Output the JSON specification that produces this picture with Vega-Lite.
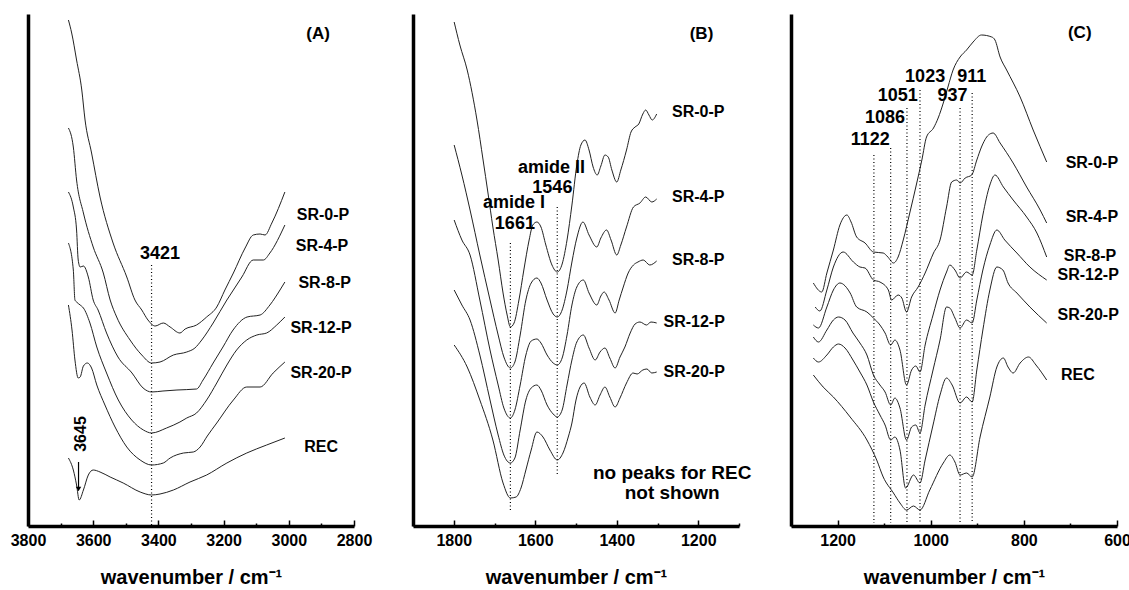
{
"$schema":"https://vega.github.io/schema/vega-lite/v6.json",
"padding":{"left":10,"top":14,"right":0,"bottom":5},
"bounds":"flush",
"spacing":59,
"config":{"view":{"stroke":null},
"axis":{"grid":false,"domainColor":"#000","domainWidth":3.5,"tickColor":"#000","tickWidth":1.5,"labelFont":"Liberation Sans","labelFontSize":16,"labelFontWeight":"bold","labelColor":"#000","titleFont":"Liberation Sans","titleFontSize":20,"titleFontWeight":"bold","titleColor":"#000","labelFlush":false,"labelOverlap":false},
"text":{"font":"Liberation Sans","fontWeight":"bold","color":"#000"},
"line":{"interpolate":"monotone"}},
"datasets":{
"A":[
{"s":"SR-0-P","x":3676,"y":506},{"s":"SR-0-P","x":3666,"y":493},{"s":"SR-0-P","x":3651,"y":466},{"s":"SR-0-P","x":3635,"y":436},{"s":"SR-0-P","x":3625,"y":406},{"s":"SR-0-P","x":3605,"y":373},{"s":"SR-0-P","x":3579,"y":329},{"s":"SR-0-P","x":3539,"y":283},{"s":"SR-0-P","x":3497,"y":249},{"s":"SR-0-P","x":3472,"y":226},{"s":"SR-0-P","x":3451,"y":216},{"s":"SR-0-P","x":3432,"y":206},{"s":"SR-0-P","x":3410,"y":200},{"s":"SR-0-P","x":3385,"y":203},{"s":"SR-0-P","x":3364,"y":199},{"s":"SR-0-P","x":3334,"y":193},{"s":"SR-0-P","x":3318,"y":197},{"s":"SR-0-P","x":3283,"y":201},{"s":"SR-0-P","x":3252,"y":209},{"s":"SR-0-P","x":3221,"y":219},{"s":"SR-0-P","x":3196,"y":236},{"s":"SR-0-P","x":3170,"y":253},{"s":"SR-0-P","x":3134,"y":278},{"s":"SR-0-P","x":3109,"y":291},{"s":"SR-0-P","x":3088,"y":292},{"s":"SR-0-P","x":3073,"y":291},{"s":"SR-0-P","x":3052,"y":303},{"s":"SR-0-P","x":3012,"y":334},
{"s":"SR-4-P","x":3676,"y":398},{"s":"SR-4-P","x":3661,"y":379},{"s":"SR-4-P","x":3651,"y":346},{"s":"SR-4-P","x":3630,"y":313},{"s":"SR-4-P","x":3600,"y":279},{"s":"SR-4-P","x":3569,"y":253},{"s":"SR-4-P","x":3548,"y":226},{"s":"SR-4-P","x":3528,"y":209},{"s":"SR-4-P","x":3487,"y":186},{"s":"SR-4-P","x":3451,"y":171},{"s":"SR-4-P","x":3421,"y":163},{"s":"SR-4-P","x":3395,"y":164},{"s":"SR-4-P","x":3354,"y":171},{"s":"SR-4-P","x":3313,"y":174},{"s":"SR-4-P","x":3288,"y":178},{"s":"SR-4-P","x":3267,"y":186},{"s":"SR-4-P","x":3232,"y":203},{"s":"SR-4-P","x":3190,"y":226},{"s":"SR-4-P","x":3170,"y":236},{"s":"SR-4-P","x":3144,"y":249},{"s":"SR-4-P","x":3109,"y":266},{"s":"SR-4-P","x":3078,"y":266},{"s":"SR-4-P","x":3058,"y":273},{"s":"SR-4-P","x":3012,"y":301},
{"s":"SR-8-P","x":3676,"y":334},{"s":"SR-8-P","x":3661,"y":319},{"s":"SR-8-P","x":3651,"y":296},{"s":"SR-8-P","x":3646,"y":266},{"s":"SR-8-P","x":3640,"y":259},{"s":"SR-8-P","x":3630,"y":260},{"s":"SR-8-P","x":3615,"y":249},{"s":"SR-8-P","x":3600,"y":226},{"s":"SR-8-P","x":3585,"y":216},{"s":"SR-8-P","x":3559,"y":193},{"s":"SR-8-P","x":3524,"y":169},{"s":"SR-8-P","x":3481,"y":153},{"s":"SR-8-P","x":3447,"y":138},{"s":"SR-8-P","x":3421,"y":134},{"s":"SR-8-P","x":3386,"y":135},{"s":"SR-8-P","x":3343,"y":136},{"s":"SR-8-P","x":3283,"y":137},{"s":"SR-8-P","x":3263,"y":146},{"s":"SR-8-P","x":3232,"y":163},{"s":"SR-8-P","x":3202,"y":179},{"s":"SR-8-P","x":3171,"y":196},{"s":"SR-8-P","x":3128,"y":209},{"s":"SR-8-P","x":3088,"y":211},{"s":"SR-8-P","x":3058,"y":221},{"s":"SR-8-P","x":3027,"y":236},{"s":"SR-8-P","x":3012,"y":244},
{"s":"SR-12-P","x":3676,"y":283},{"s":"SR-12-P","x":3661,"y":256},{"s":"SR-12-P","x":3656,"y":226},{"s":"SR-12-P","x":3651,"y":224},{"s":"SR-12-P","x":3640,"y":221},{"s":"SR-12-P","x":3630,"y":218},{"s":"SR-12-P","x":3610,"y":203},{"s":"SR-12-P","x":3589,"y":179},{"s":"SR-12-P","x":3559,"y":153},{"s":"SR-12-P","x":3523,"y":126},{"s":"SR-12-P","x":3482,"y":106},{"s":"SR-12-P","x":3446,"y":96},{"s":"SR-12-P","x":3421,"y":93},{"s":"SR-12-P","x":3375,"y":98},{"s":"SR-12-P","x":3334,"y":104},{"s":"SR-12-P","x":3313,"y":108},{"s":"SR-12-P","x":3283,"y":113},{"s":"SR-12-P","x":3252,"y":126},{"s":"SR-12-P","x":3221,"y":143},{"s":"SR-12-P","x":3190,"y":161},{"s":"SR-12-P","x":3160,"y":176},{"s":"SR-12-P","x":3129,"y":186},{"s":"SR-12-P","x":3098,"y":191},{"s":"SR-12-P","x":3068,"y":193},{"s":"SR-12-P","x":3037,"y":201},{"s":"SR-12-P","x":3012,"y":209},
{"s":"SR-20-P","x":3676,"y":221},{"s":"SR-20-P","x":3665,"y":196},{"s":"SR-20-P","x":3656,"y":166},{"s":"SR-20-P","x":3646,"y":148},{"s":"SR-20-P","x":3640,"y":149},{"s":"SR-20-P","x":3630,"y":160},{"s":"SR-20-P","x":3618,"y":163},{"s":"SR-20-P","x":3605,"y":158},{"s":"SR-20-P","x":3589,"y":141},{"s":"SR-20-P","x":3564,"y":121},{"s":"SR-20-P","x":3533,"y":99},{"s":"SR-20-P","x":3497,"y":79},{"s":"SR-20-P","x":3456,"y":66},{"s":"SR-20-P","x":3421,"y":61},{"s":"SR-20-P","x":3385,"y":63},{"s":"SR-20-P","x":3364,"y":68},{"s":"SR-20-P","x":3323,"y":73},{"s":"SR-20-P","x":3293,"y":74},{"s":"SR-20-P","x":3272,"y":79},{"s":"SR-20-P","x":3250,"y":90},{"s":"SR-20-P","x":3221,"y":103},{"s":"SR-20-P","x":3170,"y":126},{"s":"SR-20-P","x":3129,"y":139},{"s":"SR-20-P","x":3088,"y":139},{"s":"SR-20-P","x":3048,"y":153},{"s":"SR-20-P","x":3012,"y":164},
{"s":"REC","x":3676,"y":68},{"s":"REC","x":3661,"y":56},{"s":"REC","x":3651,"y":41},{"s":"REC","x":3643,"y":26},{"s":"REC","x":3630,"y":36},{"s":"REC","x":3615,"y":51},{"s":"REC","x":3600,"y":56},{"s":"REC","x":3579,"y":54},{"s":"REC","x":3548,"y":49},{"s":"REC","x":3508,"y":43},{"s":"REC","x":3456,"y":34},{"s":"REC","x":3421,"y":31},{"s":"REC","x":3395,"y":32},{"s":"REC","x":3354,"y":36},{"s":"REC","x":3303,"y":44},{"s":"REC","x":3252,"y":51},{"s":"REC","x":3190,"y":63},{"s":"REC","x":3129,"y":73},{"s":"REC","x":3068,"y":81},{"s":"REC","x":3012,"y":88}
],
"B":[
{"s":"SR-0-P","x":1799,"y":504},{"s":"SR-0-P","x":1785,"y":481},{"s":"SR-0-P","x":1767,"y":456},{"s":"SR-0-P","x":1743,"y":406},{"s":"SR-0-P","x":1728,"y":366},{"s":"SR-0-P","x":1716,"y":333},{"s":"SR-0-P","x":1704,"y":299},{"s":"SR-0-P","x":1691,"y":266},{"s":"SR-0-P","x":1679,"y":233},{"s":"SR-0-P","x":1669,"y":211},{"s":"SR-0-P","x":1661,"y":199},{"s":"SR-0-P","x":1652,"y":203},{"s":"SR-0-P","x":1640,"y":226},{"s":"SR-0-P","x":1628,"y":256},{"s":"SR-0-P","x":1615,"y":286},{"s":"SR-0-P","x":1606,"y":301},{"s":"SR-0-P","x":1596,"y":304},{"s":"SR-0-P","x":1586,"y":299},{"s":"SR-0-P","x":1574,"y":281},{"s":"SR-0-P","x":1559,"y":261},{"s":"SR-0-P","x":1546,"y":254},{"s":"SR-0-P","x":1534,"y":262},{"s":"SR-0-P","x":1522,"y":286},{"s":"SR-0-P","x":1510,"y":321},{"s":"SR-0-P","x":1498,"y":361},{"s":"SR-0-P","x":1488,"y":381},{"s":"SR-0-P","x":1478,"y":386},{"s":"SR-0-P","x":1468,"y":376},{"s":"SR-0-P","x":1458,"y":359},{"s":"SR-0-P","x":1448,"y":351},{"s":"SR-0-P","x":1439,"y":360},{"s":"SR-0-P","x":1429,"y":371},{"s":"SR-0-P","x":1421,"y":369},{"s":"SR-0-P","x":1412,"y":356},{"s":"SR-0-P","x":1400,"y":344},{"s":"SR-0-P","x":1390,"y":356},{"s":"SR-0-P","x":1376,"y":376},{"s":"SR-0-P","x":1365,"y":394},{"s":"SR-0-P","x":1355,"y":399},{"s":"SR-0-P","x":1346,"y":402},{"s":"SR-0-P","x":1336,"y":412},{"s":"SR-0-P","x":1329,"y":416},{"s":"SR-0-P","x":1321,"y":411},{"s":"SR-0-P","x":1313,"y":406},{"s":"SR-0-P","x":1302,"y":412},
{"s":"SR-4-P","x":1799,"y":381},{"s":"SR-4-P","x":1780,"y":351},{"s":"SR-4-P","x":1760,"y":316},{"s":"SR-4-P","x":1736,"y":271},{"s":"SR-4-P","x":1711,"y":226},{"s":"SR-4-P","x":1691,"y":191},{"s":"SR-4-P","x":1677,"y":169},{"s":"SR-4-P","x":1661,"y":158},{"s":"SR-4-P","x":1650,"y":164},{"s":"SR-4-P","x":1637,"y":191},{"s":"SR-4-P","x":1623,"y":226},{"s":"SR-4-P","x":1610,"y":243},{"s":"SR-4-P","x":1596,"y":248},{"s":"SR-4-P","x":1586,"y":243},{"s":"SR-4-P","x":1571,"y":226},{"s":"SR-4-P","x":1556,"y":212},{"s":"SR-4-P","x":1546,"y":209},{"s":"SR-4-P","x":1534,"y":216},{"s":"SR-4-P","x":1522,"y":236},{"s":"SR-4-P","x":1510,"y":264},{"s":"SR-4-P","x":1498,"y":288},{"s":"SR-4-P","x":1483,"y":304},{"s":"SR-4-P","x":1468,"y":291},{"s":"SR-4-P","x":1449,"y":279},{"s":"SR-4-P","x":1439,"y":288},{"s":"SR-4-P","x":1425,"y":296},{"s":"SR-4-P","x":1414,"y":286},{"s":"SR-4-P","x":1400,"y":271},{"s":"SR-4-P","x":1390,"y":281},{"s":"SR-4-P","x":1376,"y":299},{"s":"SR-4-P","x":1359,"y":319},{"s":"SR-4-P","x":1343,"y":323},{"s":"SR-4-P","x":1329,"y":329},{"s":"SR-4-P","x":1314,"y":324},{"s":"SR-4-P","x":1302,"y":327},
{"s":"SR-8-P","x":1799,"y":306},{"s":"SR-8-P","x":1780,"y":286},{"s":"SR-8-P","x":1760,"y":271},{"s":"SR-8-P","x":1736,"y":226},{"s":"SR-8-P","x":1711,"y":176},{"s":"SR-8-P","x":1691,"y":141},{"s":"SR-8-P","x":1677,"y":118},{"s":"SR-8-P","x":1661,"y":108},{"s":"SR-8-P","x":1650,"y":116},{"s":"SR-8-P","x":1637,"y":141},{"s":"SR-8-P","x":1623,"y":171},{"s":"SR-8-P","x":1610,"y":185},{"s":"SR-8-P","x":1596,"y":187},{"s":"SR-8-P","x":1586,"y":183},{"s":"SR-8-P","x":1571,"y":171},{"s":"SR-8-P","x":1556,"y":163},{"s":"SR-8-P","x":1546,"y":161},{"s":"SR-8-P","x":1534,"y":168},{"s":"SR-8-P","x":1522,"y":191},{"s":"SR-8-P","x":1510,"y":221},{"s":"SR-8-P","x":1498,"y":239},{"s":"SR-8-P","x":1482,"y":246},{"s":"SR-8-P","x":1468,"y":233},{"s":"SR-8-P","x":1449,"y":221},{"s":"SR-8-P","x":1439,"y":230},{"s":"SR-8-P","x":1431,"y":234},{"s":"SR-8-P","x":1419,"y":226},{"s":"SR-8-P","x":1404,"y":213},{"s":"SR-8-P","x":1394,"y":226},{"s":"SR-8-P","x":1384,"y":239},{"s":"SR-8-P","x":1372,"y":253},{"s":"SR-8-P","x":1359,"y":261},{"s":"SR-8-P","x":1348,"y":264},{"s":"SR-8-P","x":1335,"y":266},{"s":"SR-8-P","x":1319,"y":261},{"s":"SR-8-P","x":1302,"y":265},
{"s":"SR-12-P","x":1799,"y":236},{"s":"SR-12-P","x":1780,"y":221},{"s":"SR-12-P","x":1760,"y":206},{"s":"SR-12-P","x":1736,"y":171},{"s":"SR-12-P","x":1711,"y":126},{"s":"SR-12-P","x":1691,"y":91},{"s":"SR-12-P","x":1677,"y":71},{"s":"SR-12-P","x":1661,"y":63},{"s":"SR-12-P","x":1650,"y":68},{"s":"SR-12-P","x":1637,"y":96},{"s":"SR-12-P","x":1623,"y":126},{"s":"SR-12-P","x":1610,"y":138},{"s":"SR-12-P","x":1596,"y":141},{"s":"SR-12-P","x":1586,"y":136},{"s":"SR-12-P","x":1571,"y":121},{"s":"SR-12-P","x":1556,"y":112},{"s":"SR-12-P","x":1546,"y":109},{"s":"SR-12-P","x":1534,"y":116},{"s":"SR-12-P","x":1522,"y":141},{"s":"SR-12-P","x":1510,"y":166},{"s":"SR-12-P","x":1498,"y":184},{"s":"SR-12-P","x":1482,"y":191},{"s":"SR-12-P","x":1468,"y":178},{"s":"SR-12-P","x":1453,"y":166},{"s":"SR-12-P","x":1441,"y":174},{"s":"SR-12-P","x":1429,"y":178},{"s":"SR-12-P","x":1417,"y":168},{"s":"SR-12-P","x":1404,"y":158},{"s":"SR-12-P","x":1392,"y":169},{"s":"SR-12-P","x":1380,"y":179},{"s":"SR-12-P","x":1367,"y":193},{"s":"SR-12-P","x":1355,"y":202},{"s":"SR-12-P","x":1343,"y":204},{"s":"SR-12-P","x":1327,"y":201},{"s":"SR-12-P","x":1316,"y":204},{"s":"SR-12-P","x":1302,"y":203},
{"s":"SR-20-P","x":1799,"y":181},{"s":"SR-20-P","x":1767,"y":159},{"s":"SR-20-P","x":1736,"y":126},{"s":"SR-20-P","x":1704,"y":86},{"s":"SR-20-P","x":1679,"y":43},{"s":"SR-20-P","x":1661,"y":28},{"s":"SR-20-P","x":1647,"y":29},{"s":"SR-20-P","x":1635,"y":38},{"s":"SR-20-P","x":1623,"y":56},{"s":"SR-20-P","x":1610,"y":76},{"s":"SR-20-P","x":1596,"y":94},{"s":"SR-20-P","x":1581,"y":89},{"s":"SR-20-P","x":1564,"y":76},{"s":"SR-20-P","x":1546,"y":66},{"s":"SR-20-P","x":1532,"y":73},{"s":"SR-20-P","x":1519,"y":89},{"s":"SR-20-P","x":1510,"y":103},{"s":"SR-20-P","x":1500,"y":126},{"s":"SR-20-P","x":1490,"y":139},{"s":"SR-20-P","x":1480,"y":143},{"s":"SR-20-P","x":1466,"y":129},{"s":"SR-20-P","x":1453,"y":121},{"s":"SR-20-P","x":1441,"y":131},{"s":"SR-20-P","x":1429,"y":139},{"s":"SR-20-P","x":1417,"y":129},{"s":"SR-20-P","x":1404,"y":119},{"s":"SR-20-P","x":1392,"y":128},{"s":"SR-20-P","x":1376,"y":143},{"s":"SR-20-P","x":1360,"y":153},{"s":"SR-20-P","x":1350,"y":152},{"s":"SR-20-P","x":1336,"y":156},{"s":"SR-20-P","x":1326,"y":157},{"s":"SR-20-P","x":1314,"y":153},{"s":"SR-20-P","x":1302,"y":154}
],
"C":[
{"s":"SR-0-P","x":1252,"y":243},{"s":"SR-0-P","x":1234,"y":234},{"s":"SR-0-P","x":1223,"y":253},{"s":"SR-0-P","x":1209,"y":276},{"s":"SR-0-P","x":1195,"y":301},{"s":"SR-0-P","x":1180,"y":311},{"s":"SR-0-P","x":1171,"y":304},{"s":"SR-0-P","x":1159,"y":289},{"s":"SR-0-P","x":1141,"y":283},{"s":"SR-0-P","x":1123,"y":274},{"s":"SR-0-P","x":1102,"y":273},{"s":"SR-0-P","x":1092,"y":269},{"s":"SR-0-P","x":1080,"y":263},{"s":"SR-0-P","x":1070,"y":269},{"s":"SR-0-P","x":1059,"y":286},{"s":"SR-0-P","x":1045,"y":313},{"s":"SR-0-P","x":1030,"y":343},{"s":"SR-0-P","x":1019,"y":366},{"s":"SR-0-P","x":1009,"y":389},{"s":"SR-0-P","x":994,"y":398},{"s":"SR-0-P","x":984,"y":408},{"s":"SR-0-P","x":973,"y":423},{"s":"SR-0-P","x":963,"y":439},{"s":"SR-0-P","x":952,"y":456},{"s":"SR-0-P","x":937,"y":469},{"s":"SR-0-P","x":923,"y":476},{"s":"SR-0-P","x":909,"y":484},{"s":"SR-0-P","x":891,"y":491},{"s":"SR-0-P","x":869,"y":489},{"s":"SR-0-P","x":862,"y":486},{"s":"SR-0-P","x":851,"y":469},{"s":"SR-0-P","x":837,"y":456},{"s":"SR-0-P","x":808,"y":429},{"s":"SR-0-P","x":780,"y":396},{"s":"SR-0-P","x":751,"y":364},
{"s":"SR-4-P","x":1248,"y":219},{"s":"SR-4-P","x":1238,"y":215},{"s":"SR-4-P","x":1223,"y":236},{"s":"SR-4-P","x":1209,"y":259},{"s":"SR-4-P","x":1188,"y":274},{"s":"SR-4-P","x":1166,"y":264},{"s":"SR-4-P","x":1152,"y":259},{"s":"SR-4-P","x":1141,"y":258},{"s":"SR-4-P","x":1123,"y":246},{"s":"SR-4-P","x":1109,"y":244},{"s":"SR-4-P","x":1091,"y":236},{"s":"SR-4-P","x":1084,"y":226},{"s":"SR-4-P","x":1070,"y":231},{"s":"SR-4-P","x":1062,"y":228},{"s":"SR-4-P","x":1052,"y":214},{"s":"SR-4-P","x":1041,"y":229},{"s":"SR-4-P","x":1027,"y":239},{"s":"SR-4-P","x":1012,"y":253},{"s":"SR-4-P","x":994,"y":273},{"s":"SR-4-P","x":980,"y":286},{"s":"SR-4-P","x":966,"y":319},{"s":"SR-4-P","x":955,"y":344},{"s":"SR-4-P","x":944,"y":346},{"s":"SR-4-P","x":937,"y":343},{"s":"SR-4-P","x":926,"y":348},{"s":"SR-4-P","x":912,"y":351},{"s":"SR-4-P","x":901,"y":366},{"s":"SR-4-P","x":891,"y":379},{"s":"SR-4-P","x":876,"y":391},{"s":"SR-4-P","x":866,"y":393},{"s":"SR-4-P","x":851,"y":383},{"s":"SR-4-P","x":823,"y":363},{"s":"SR-4-P","x":794,"y":339},{"s":"SR-4-P","x":765,"y":316},{"s":"SR-4-P","x":751,"y":303},
{"s":"SR-8-P","x":1252,"y":201},{"s":"SR-8-P","x":1241,"y":198},{"s":"SR-8-P","x":1223,"y":219},{"s":"SR-8-P","x":1209,"y":236},{"s":"SR-8-P","x":1195,"y":243},{"s":"SR-8-P","x":1173,"y":233},{"s":"SR-8-P","x":1159,"y":219},{"s":"SR-8-P","x":1137,"y":214},{"s":"SR-8-P","x":1123,"y":208},{"s":"SR-8-P","x":1109,"y":201},{"s":"SR-8-P","x":1098,"y":193},{"s":"SR-8-P","x":1086,"y":181},{"s":"SR-8-P","x":1077,"y":186},{"s":"SR-8-P","x":1066,"y":176},{"s":"SR-8-P","x":1052,"y":141},{"s":"SR-8-P","x":1041,"y":156},{"s":"SR-8-P","x":1032,"y":160},{"s":"SR-8-P","x":1023,"y":154},{"s":"SR-8-P","x":1012,"y":181},{"s":"SR-8-P","x":995,"y":211},{"s":"SR-8-P","x":980,"y":236},{"s":"SR-8-P","x":966,"y":254},{"s":"SR-8-P","x":959,"y":261},{"s":"SR-8-P","x":948,"y":256},{"s":"SR-8-P","x":937,"y":248},{"s":"SR-8-P","x":923,"y":254},{"s":"SR-8-P","x":911,"y":251},{"s":"SR-8-P","x":901,"y":276},{"s":"SR-8-P","x":888,"y":311},{"s":"SR-8-P","x":873,"y":341},{"s":"SR-8-P","x":862,"y":351},{"s":"SR-8-P","x":844,"y":339},{"s":"SR-8-P","x":823,"y":326},{"s":"SR-8-P","x":794,"y":309},{"s":"SR-8-P","x":772,"y":293},{"s":"SR-8-P","x":751,"y":269},
{"s":"SR-12-P","x":1252,"y":189},{"s":"SR-12-P","x":1241,"y":184},{"s":"SR-12-P","x":1223,"y":196},{"s":"SR-12-P","x":1209,"y":206},{"s":"SR-12-P","x":1198,"y":209},{"s":"SR-12-P","x":1184,"y":206},{"s":"SR-12-P","x":1167,"y":193},{"s":"SR-12-P","x":1152,"y":183},{"s":"SR-12-P","x":1137,"y":171},{"s":"SR-12-P","x":1123,"y":151},{"s":"SR-12-P","x":1109,"y":141},{"s":"SR-12-P","x":1098,"y":134},{"s":"SR-12-P","x":1086,"y":121},{"s":"SR-12-P","x":1077,"y":128},{"s":"SR-12-P","x":1066,"y":118},{"s":"SR-12-P","x":1052,"y":86},{"s":"SR-12-P","x":1041,"y":99},{"s":"SR-12-P","x":1032,"y":101},{"s":"SR-12-P","x":1023,"y":93},{"s":"SR-12-P","x":1012,"y":121},{"s":"SR-12-P","x":995,"y":156},{"s":"SR-12-P","x":980,"y":186},{"s":"SR-12-P","x":966,"y":219},{"s":"SR-12-P","x":959,"y":218},{"s":"SR-12-P","x":948,"y":208},{"s":"SR-12-P","x":937,"y":198},{"s":"SR-12-P","x":923,"y":206},{"s":"SR-12-P","x":911,"y":203},{"s":"SR-12-P","x":901,"y":226},{"s":"SR-12-P","x":888,"y":256},{"s":"SR-12-P","x":873,"y":281},{"s":"SR-12-P","x":858,"y":296},{"s":"SR-12-P","x":841,"y":286},{"s":"SR-12-P","x":815,"y":273},{"s":"SR-12-P","x":787,"y":259},{"s":"SR-12-P","x":751,"y":246},
{"s":"SR-20-P","x":1252,"y":168},{"s":"SR-20-P","x":1241,"y":164},{"s":"SR-20-P","x":1223,"y":171},{"s":"SR-20-P","x":1209,"y":179},{"s":"SR-20-P","x":1198,"y":182},{"s":"SR-20-P","x":1184,"y":178},{"s":"SR-20-P","x":1167,"y":166},{"s":"SR-20-P","x":1152,"y":154},{"s":"SR-20-P","x":1137,"y":141},{"s":"SR-20-P","x":1123,"y":124},{"s":"SR-20-P","x":1109,"y":111},{"s":"SR-20-P","x":1098,"y":101},{"s":"SR-20-P","x":1086,"y":86},{"s":"SR-20-P","x":1077,"y":89},{"s":"SR-20-P","x":1066,"y":76},{"s":"SR-20-P","x":1054,"y":38},{"s":"SR-20-P","x":1037,"y":51},{"s":"SR-20-P","x":1023,"y":43},{"s":"SR-20-P","x":1012,"y":66},{"s":"SR-20-P","x":995,"y":101},{"s":"SR-20-P","x":980,"y":131},{"s":"SR-20-P","x":966,"y":148},{"s":"SR-20-P","x":954,"y":141},{"s":"SR-20-P","x":937,"y":123},{"s":"SR-20-P","x":923,"y":129},{"s":"SR-20-P","x":911,"y":124},{"s":"SR-20-P","x":901,"y":156},{"s":"SR-20-P","x":888,"y":196},{"s":"SR-20-P","x":873,"y":236},{"s":"SR-20-P","x":858,"y":259},{"s":"SR-20-P","x":845,"y":256},{"s":"SR-20-P","x":834,"y":243},{"s":"SR-20-P","x":815,"y":233},{"s":"SR-20-P","x":787,"y":219},{"s":"SR-20-P","x":751,"y":203},
{"s":"REC","x":1252,"y":151},{"s":"REC","x":1231,"y":139},{"s":"REC","x":1209,"y":129},{"s":"REC","x":1173,"y":109},{"s":"REC","x":1137,"y":86},{"s":"REC","x":1116,"y":66},{"s":"REC","x":1102,"y":49},{"s":"REC","x":1080,"y":33},{"s":"REC","x":1066,"y":23},{"s":"REC","x":1052,"y":16},{"s":"REC","x":1037,"y":20},{"s":"REC","x":1023,"y":16},{"s":"REC","x":1002,"y":36},{"s":"REC","x":973,"y":63},{"s":"REC","x":959,"y":71},{"s":"REC","x":948,"y":64},{"s":"REC","x":937,"y":51},{"s":"REC","x":923,"y":53},{"s":"REC","x":911,"y":49},{"s":"REC","x":894,"y":89},{"s":"REC","x":873,"y":129},{"s":"REC","x":858,"y":159},{"s":"REC","x":844,"y":168},{"s":"REC","x":834,"y":159},{"s":"REC","x":823,"y":153},{"s":"REC","x":808,"y":163},{"s":"REC","x":790,"y":169},{"s":"REC","x":774,"y":161},{"s":"REC","x":751,"y":146}
],
"Ar":[{"x":3421,"y":261,"y2":0}],
"Aarrow":[{"x":3645,"y":64,"y2":38}],
"Ahead":[{"x":3645,"y":37}],
"Arot":[{"t":"3645","x":3637,"y":92}],
"At":[{"t":"(A)","x":2910,"y":492,"k":"panel"},{"t":"SR-0-P","x":2895,"y":311,"k":"label"},{"t":"SR-4-P","x":2898,"y":280,"k":"label"},{"t":"SR-8-P","x":2890,"y":243,"k":"label"},{"t":"SR-12-P","x":2901,"y":198,"k":"label"},{"t":"SR-20-P","x":2901,"y":153,"k":"label"},{"t":"REC","x":2901,"y":79,"k":"label"},{"t":"3421","x":3395,"y":272,"k":"note"}],
"Br":[{"x":1661,"y":283,"y2":14},{"x":1546,"y":319,"y2":51}],
"Bt":[{"t":"(B)","x":1192,"y":492,"k":"panel"},{"t":"SR-0-P","x":1200,"y":414,"k":"label"},{"t":"SR-4-P","x":1200,"y":329,"k":"label"},{"t":"SR-8-P","x":1200,"y":266,"k":"label"},{"t":"SR-12-P","x":1210,"y":204,"k":"label"},{"t":"SR-20-P","x":1210,"y":154,"k":"label"},{"t":"amide I","x":1652,"y":323,"k":"note"},{"t":"1661","x":1650,"y":302,"k":"note"},{"t":"amide II","x":1560,"y":358,"k":"note"},{"t":"1546","x":1558,"y":338,"k":"note"},{"t":"no peaks for REC","x":1264,"y":53,"k":"remark"},{"t":"not shown","x":1264,"y":33,"k":"remark"}],
"Cr":[{"x":1122,"y":371,"y2":3},{"x":1086,"y":378,"y2":3},{"x":1051,"y":418,"y2":3},{"x":1023,"y":436,"y2":3},{"x":937,"y":418,"y2":3},{"x":911,"y":433,"y2":3}],
"Ct":[{"t":"(C)","x":680,"y":493,"k":"panel"},{"t":"SR-0-P","x":654,"y":363,"k":"label"},{"t":"SR-4-P","x":654,"y":309,"k":"label"},{"t":"SR-8-P","x":658,"y":270,"k":"label"},{"t":"SR-12-P","x":662,"y":251,"k":"label"},{"t":"SR-20-P","x":662,"y":211,"k":"label"},{"t":"REC","x":684,"y":151,"k":"label"},{"t":"1122","x":1130,"y":386,"k":"note"},{"t":"1086","x":1098,"y":408,"k":"note"},{"t":"1051","x":1071,"y":430,"k":"note"},{"t":"1023","x":1012,"y":449,"k":"note"},{"t":"937","x":953,"y":430,"k":"note"},{"t":"911","x":912,"y":449,"k":"note"}]
},
"hconcat":[
{"width":326,"height":512,
"encoding":{
"x":{"field":"x","type":"quantitative","scale":{"domain":[2800,3800],"reverse":true,"nice":false,"zero":false},
"axis":{"title":"wavenumber / cm⁻¹","values":[3800,3700,3600,3500,3400,3300,3200,3100,3000,2900,2800],"format":"d","labelExpr":"datum.value % 200 == 0 ? datum.label : ''","tickSize":{"condition":{"test":"datum.value % 200 == 0","value":-6},"value":-3},"labelPadding":12,"titlePadding":16}},
"y":{"field":"y","type":"quantitative","scale":{"domain":[0,512],"nice":false,"zero":false},"axis":{"title":null,"labels":false,"ticks":false}}},
"layer":[
{"data":{"name":"A"},"mark":{"type":"line","color":"#222","strokeWidth":1},"encoding":{"detail":{"field":"s","type":"nominal"}}},
{"data":{"name":"Ar"},"mark":{"type":"rule","color":"#000","strokeWidth":1.2,"strokeDash":[1,2.5]},"encoding":{"y2":{"field":"y2"}}},
{"data":{"name":"Aarrow"},"mark":{"type":"rule","color":"#000","strokeWidth":1.2},"encoding":{"y2":{"field":"y2"}}},
{"data":{"name":"Ahead"},"mark":{"type":"point","shape":"triangle-down","filled":true,"color":"#000","size":30,"opacity":1},"encoding":{}},
{"data":{"name":"Arot"},"mark":{"type":"text","angle":270,"fontSize":16,"align":"center","baseline":"middle"},"encoding":{"text":{"field":"t"}}},
{"data":{"name":"At"},"mark":{"type":"text","align":"center","baseline":"middle"},"encoding":{"text":{"field":"t"},"size":{"field":"k","type":"nominal","scale":{"domain":["label","panel","note","remark"],"range":[16,19,15,16]},"legend":null}}}
]},
{"hconcat":[
{"width":326,"height":512,
"encoding":{
"x":{"field":"x","type":"quantitative","scale":{"domain":[1100,1900],"reverse":true,"nice":false,"zero":false},
"axis":{"title":"wavenumber / cm⁻¹","values":[1900,1800,1700,1600,1500,1400,1300,1200,1100],"format":"d","labelExpr":"datum.value % 200 == 0 ? datum.label : ''","tickSize":{"condition":{"test":"datum.value % 200 == 0","value":-6},"value":-3},"labelPadding":12,"titlePadding":16}},
"y":{"field":"y","type":"quantitative","scale":{"domain":[0,512],"nice":false,"zero":false},"axis":{"title":null,"labels":false,"ticks":false}}},
"layer":[
{"data":{"name":"B"},"mark":{"type":"line","color":"#222","strokeWidth":1},"encoding":{"detail":{"field":"s","type":"nominal"}}},
{"data":{"name":"Br"},"mark":{"type":"rule","color":"#000","strokeWidth":1.2,"strokeDash":[1,2.5]},"encoding":{"y2":{"field":"y2"}}},
{"data":{"name":"Bt"},"mark":{"type":"text","align":"center","baseline":"middle"},"encoding":{"text":{"field":"t"},"size":{"field":"k","type":"nominal","scale":{"domain":["label","panel","note","remark"],"range":[16,19,15,16]},"legend":null}}}
]},
{"width":326,"height":512,
"encoding":{
"x":{"field":"x","type":"quantitative","scale":{"domain":[600,1300],"reverse":true,"nice":false,"zero":false},
"axis":{"title":"wavenumber / cm⁻¹","values":[1300,1200,1100,1000,900,800,700,600],"format":"d","labelExpr":"datum.value % 200 == 0 ? datum.label : ''","tickSize":{"condition":{"test":"datum.value % 200 == 0","value":-6},"value":-3},"labelPadding":12,"titlePadding":16}},
"y":{"field":"y","type":"quantitative","scale":{"domain":[0,512],"nice":false,"zero":false},"axis":{"title":null,"labels":false,"ticks":false}}},
"layer":[
{"data":{"name":"C"},"mark":{"type":"line","color":"#222","strokeWidth":1},"encoding":{"detail":{"field":"s","type":"nominal"}}},
{"data":{"name":"Cr"},"mark":{"type":"rule","color":"#000","strokeWidth":1.2,"strokeDash":[1,2.5]},"encoding":{"y2":{"field":"y2"}}},
{"data":{"name":"Ct"},"mark":{"type":"text","align":"center","baseline":"middle"},"encoding":{"text":{"field":"t"},"size":{"field":"k","type":"nominal","scale":{"domain":["label","panel","note","remark"],"range":[16,19,15,16]},"legend":null}}}
]}
],"spacing":52,"bounds":"flush"}
]
}
